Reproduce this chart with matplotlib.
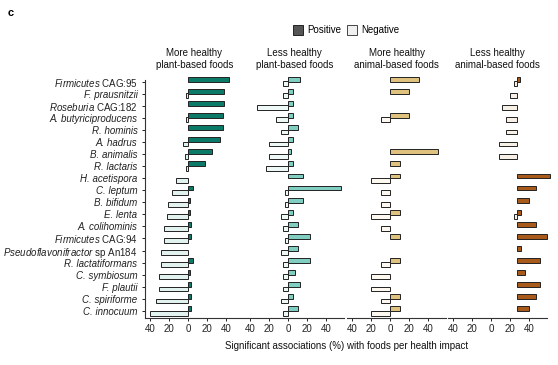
import matplotlib
matplotlib.use("Agg")
import matplotlib.pyplot as plt
from matplotlib.patches import Rectangle
import numpy as np

plt.rcParams['font.family'] = ['Liberation Sans', 'DejaVu Sans']
plt.rcParams['mathtext.fontset'] = 'custom'
plt.rcParams['mathtext.it'] = 'Liberation Sans:italic'
plt.rcParams['mathtext.rm'] = 'Liberation Sans'

# ---------------- data ----------------
species = [
    "Firmicutes CAG:95", "F. prausnitzii", "Roseburia CAG:182",
    "A. butyriciproducens", "R. hominis", "A. hadrus", "B. animalis",
    "R. lactaris", "H. acetispora", "C. leptum", "B. bifidum", "E. lenta",
    "A. colihominis", "Firmicutes CAG:94", "Pseudoflavonifractor sp An184",
    "R. lactatiformans", "C. symbiosum", "F. plautii", "C. spiriforme",
    "C. innocuum",
]
# upright (non-italic) trailing part of each name, if any
upright_suffix = {
    "Firmicutes CAG:95": "CAG:95",
    "Roseburia CAG:182": "CAG:182",
    "Firmicutes CAG:94": "CAG:94",
    "Pseudoflavonifractor sp An184": "sp An184",
}

panel_titles = ["More healthy\nplant-based foods",
                "Less healthy\nplant-based foods",
                "More healthy\nanimal-based foods",
                "Less healthy\nanimal-based foods"]

# positive / negative association percentages per panel
healthy_plant_pos = [43, 38, 38, 36.5, 36.5, 33.5, 25, 18, 0, 5, 2, 2, 3, 3, 0, 5, 2, 3, 3, 3]
healthy_plant_neg = [0, 2, 0, 2, 0, 5, 3.5, 1.5, 12, 17, 20.5, 21.5, 25.5, 25.5, 28, 28, 30, 30, 33.5, 40]

unhealthy_plant_pos = [13, 5.3, 5.3, 5.3, 10.5, 5.3, 2.8, 5.3, 15.8, 55.4, 15.8, 5.3, 10.5, 22.8, 10.5, 22.8, 7.7, 13, 5.3, 10.5]
unhealthy_plant_neg = [5.3, 5.3, 32.6, 12, 7, 20, 20, 22.8, 0, 2.8, 2.8, 7.7, 5.3, 2.8, 7, 5.3, 5.3, 5.3, 7, 5.3]

healthy_animal_pos = [30.5, 20, 0, 20, 0, 0, 50, 10.5, 10.5, 0, 0, 10.5, 0, 10.5, 0, 10.5, 0, 0, 10.5, 10.5]
healthy_animal_neg = [0, 0, 0, 10, 0, 0, 0, 0, 20, 10, 10, 20, 10, 0, 0, 10, 20, 20, 10, 20]

unhealthy_animal_pos = [3, 0, 0, 0, 0, 0, 0, 0, 34.7, 19.6, 12.3, 3.9, 19.6, 31, 3.9, 23.5, 8.4, 23.5, 19.6, 12.3]
unhealthy_animal_neg = [3.5, 7.4, 15.8, 11.6, 11.6, 19.3, 19.3, 0, 0, 0, 0, 3.5, 0, 0, 0, 0, 0, 0, 0, 0]

tick_vals = [-40, -20, 0, 20, 40]
tick_labels = ["40", "20", "0", "20", "40"]

# ---------------- style / layout ----------------
pos_colors = ["#0b7a69", "#80cdc1", "#dfc27d", "#a85a1a"]
neg_colors = ["#e2f2ee", "#eef8f6", "#fdf9f0", "#f7f0e6"]
EDGE = "#222222"
baselines = [0, 0, 0, 27.5]   # last panel's bars are drawn offset from its tick zero

W, H = 558, 365
fig = plt.figure(figsize=(W / 100, H / 100), dpi=100)

panel_left_px = [145, 245, 347.3, 448.3]
panel_w_px = 99
top_px, bot_px = 80.3, 318.2

pos_data = [healthy_plant_pos, unhealthy_plant_pos, healthy_animal_pos, unhealthy_animal_pos]
neg_data = [healthy_plant_neg, unhealthy_plant_neg, healthy_animal_neg, unhealthy_animal_neg]


def make_label(name):
    suf = upright_suffix.get(name)
    if suf is None:
        return name, True
    ital = name[: len(name) - len(suf)].strip()
    return r"$\mathit{" + ital + "}$ " + suf, False


n = len(species)
y = np.arange(n)
bh = 0.4

for k in range(4):
    ax = fig.add_axes([panel_left_px[k] / W, 1 - bot_px / H,
                       panel_w_px / W, (bot_px - top_px) / H])
    pos = np.array(pos_data[k], dtype=float)
    neg = np.array(neg_data[k], dtype=float)
    b = baselines[k]
    mp = pos > 0
    mn = neg > 0
    ax.barh(y[mp] - 0.18, pos[mp], left=b, height=bh, color=pos_colors[k],
            edgecolor=EDGE, linewidth=0.7, clip_on=False, zorder=3)
    ax.barh(y[mn] + 0.18, -neg[mn], left=b, height=bh, color=neg_colors[k],
            edgecolor=EDGE, linewidth=0.7, clip_on=False, zorder=3)
    ax.set_xlim(-45, 59)
    ax.set_ylim(n - 0.4, -0.1)
    ax.set_xticks(tick_vals)
    ax.set_xticklabels(tick_labels)
    ax.tick_params(axis='x', labelsize=7, length=2.4, width=0.7, pad=2, colors='#222222')
    for s in ['top', 'right']:
        ax.spines[s].set_visible(False)
    ax.spines['bottom'].set_linewidth(0.8)
    ax.spines['bottom'].set_color('#333333')
    if k == 0:
        ax.set_yticks(y)
        labs = [make_label(s) for s in species]
        ax.set_yticklabels([l for l, _ in labs])
        for t, (_, it) in zip(ax.get_yticklabels(), labs):
            if it:
                t.set_fontstyle('italic')
        ax.tick_params(axis='y', labelsize=7, length=2.4, width=0.7, pad=3, colors='#222222')
        ax.spines['left'].set_linewidth(0.8)
        ax.spines['left'].set_color('#333333')
    else:
        ax.spines['left'].set_visible(False)
        ax.set_yticks([])
    ax.set_title(panel_titles[k], fontsize=7, pad=9, linespacing=1.25, color='#111111')
    ax.patch.set_alpha(0)

fig.text(347 / W, 1 - 346 / H,
         "Significant associations (%) with foods per health impact",
         ha='center', va='center', fontsize=7, color='#111111')

fig.text(8 / W, 1 - 13 / H, "c", fontsize=8, fontweight='bold', ha='left', va='center')


# legend
def px_rect(x0, y0, w, h, fc, ec):
    fig.add_artist(Rectangle((x0 / W, 1 - (y0 + h) / H), w / W, h / H,
                             transform=fig.transFigure, facecolor=fc,
                             edgecolor=ec, linewidth=0.7))


px_rect(293.3, 25, 10, 10, "#555555", "#222222")
fig.text(307.5 / W, 1 - 30 / H, "Positive", fontsize=7, ha='left', va='center')
px_rect(347.3, 25, 10, 10, "#f0f0f0", "#444444")
fig.text(361.5 / W, 1 - 30 / H, "Negative", fontsize=7, ha='left', va='center')

fig.savefig("out.png", dpi=100)
